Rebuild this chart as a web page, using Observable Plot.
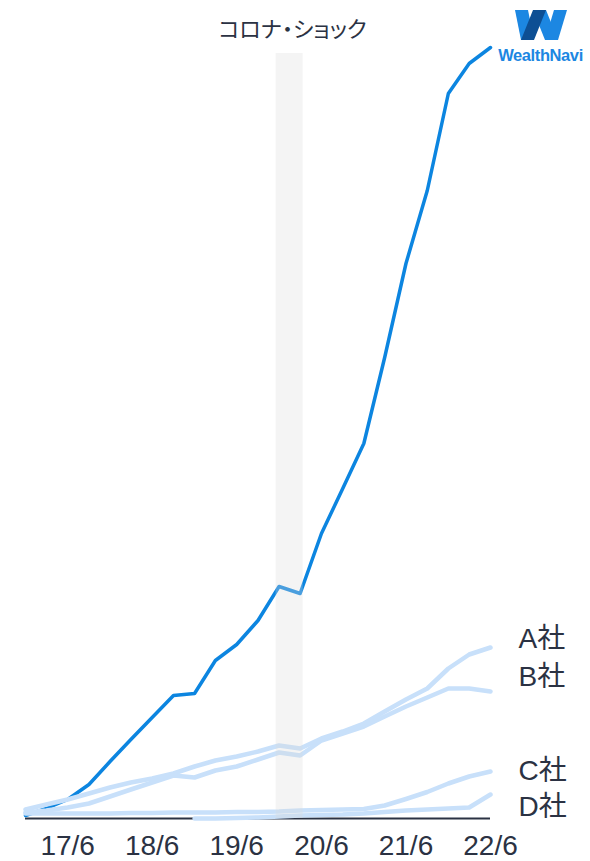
<!DOCTYPE html>
<html><head><meta charset="utf-8">
<script src="https://cdn.jsdelivr.net/npm/d3@7"></script>
<script src="https://cdn.jsdelivr.net/npm/@observablehq/plot@0.6"></script>
<style>
  html,body{margin:0;padding:0;background:#fff;}
  #wrap{position:relative;width:590px;height:861px;}
  #logo{position:absolute;left:0;top:0;pointer-events:none;}
  .title-text{font-feature-settings:"palt";}
</style>
</head><body>
<div id="wrap"><div id="chart"></div>
<svg id="logo" width="590" height="861">
  <polygon points="515,10 528,10 534,40 521,40" fill="#1c87e2"/>
  <polygon points="533,10 546,10 558,40 545,40" fill="#1c87e2"/>
  <polygon points="545,40 558,40 567,10 554,10" fill="#1c87e2"/>
  <polygon points="521,40 534,40 546,10 533,10" fill="#0d4f94"/>
  <text x="540.5" y="61" text-anchor="middle" font-family="Liberation Sans, Arial, sans-serif" font-weight="bold" font-size="16.5" fill="#1c87e2" letter-spacing="-0.4">WealthNavi</text>
</svg>
</div>
<script>
// Quarter-end labels (yy/m)
const quarters = ["16/12","17/3","17/6","17/9","17/12","18/3","18/6","18/9","18/12","19/3","19/6","19/9","19/12","20/3","20/6","20/9","20/12","21/3","21/6","21/9","21/12","22/3","22/6"];
// Series values (estimated, arbitrary units)
const wealthNavi = [30,100,190,340,570,790,1010,1230,1250,1580,1740,1980,2320,2250,2850,3300,3750,4610,5550,6280,7250,7550,7710];
const companyA   = [90,140,190,250,310,360,400,450,520,580,620,670,730,700,800,870,950,1070,1190,1300,1500,1640,1710];
const companyB   = [60,80,110,150,220,290,360,430,410,480,520,590,660,630,780,850,920,1020,1120,1210,1300,1300,1270];
const companyC   = [50,50,50,50,50,55,55,60,60,60,65,65,70,80,85,90,95,130,195,265,350,420,470];
const companyD   = [null,null,null,null,null,null,null,null,0,0,5,10,20,30,35,40,50,65,80,90,100,110,240];
const seriesNames = ["A社","B社","C社","D社"];
const tickLabels = ["17/6","18/6","19/6","20/6","21/6","22/6"];
const eventTitle = "コロナ・ショック";

const parseQ = s => { const [y, m] = s.split("/").map(Number); return new Date(2000 + y, m - 1, 1); };
const dates = quarters.map(parseQ);
const band = [{x1: new Date(2019, 10, 18), x2: new Date(2020, 2, 14)}];

const others = [companyA, companyB, companyC, companyD];
const rows = [];
others.forEach((arr, i) => arr.forEach((v, k) => { if (v != null) rows.push({name: seriesNames[i], date: dates[k], value: v}); }));
const wnRows = wealthNavi.map((v, k) => ({date: dates[k], value: v}));

const textColor = "#2b3243";
const labelDy = {"A社": -8, "B社": -14, "C社": 0, "D社": 13};
const lastK = quarters.length - 1;
const labelMarks = seriesNames.map((n, i) => Plot.text([{date: dates[lastK], value: others[i][lastK], name: n}], {
  x: "date", y: "value", text: "name", dx: 28, dy: labelDy[n], textAnchor: "start",
  fontSize: 28, fill: textColor
}));

const chart = Plot.plot({
  width: 590, height: 861,
  marginLeft: 25, marginRight: 100, marginTop: 47, marginBottom: 43,
  style: {fontFamily: "'Liberation Sans', Arial, 'Noto Sans CJK JP', sans-serif", background: "#fff", color: textColor},
  x: {type: "time", domain: [dates[0], dates[lastK]]},
  y: {domain: [0, 7710], axis: null},
  marks: [
    Plot.ruleY([0], {stroke: "#2b3243", strokeWidth: 2}),
    Plot.line(wnRows, {x: "date", y: "value", stroke: "#0c85e0", strokeWidth: 3.5, strokeLinejoin: "round"}),
    Plot.line(rows, {x: "date", y: "value", z: "name", stroke: "#c8e0fa", strokeWidth: 4.5, strokeLinejoin: "round", strokeLinecap: "round"}),
    Plot.rect(band, {x1: "x1", x2: "x2", y1: 0, y2: 7650, fill: "#dcdcdc", fillOpacity: 0.3}),
    Plot.text([band[0]], {x: d => new Date((+d.x1 + +d.x2) / 2), y: () => 7710, text: () => eventTitle, dy: -18, dx: 3, fontSize: 22, fill: textColor, fontFamily: "'Noto Sans CJK JP', sans-serif", className: "title-text"}),
    ...labelMarks,
    Plot.axisX(tickLabels.map(parseQ), {tickSize: 0, tickPadding: 17, fontSize: 28, fill: textColor, tickFormat: d => `${d.getFullYear() % 100}/${d.getMonth() + 1}`, label: null})
  ]
});
document.getElementById("chart").appendChild(chart);
</script>
</body></html>
